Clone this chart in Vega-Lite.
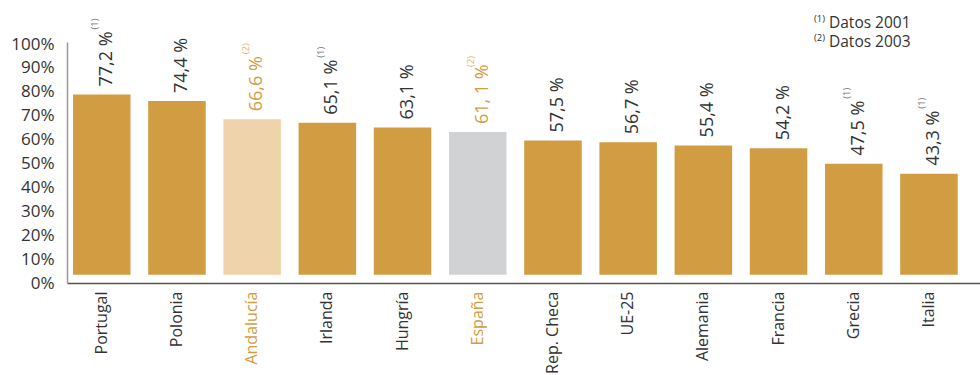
{
  "$schema": "https://vega.github.io/schema/vega-lite/v6.json",
  "width": 913,
  "height": 241,
  "autosize": {"type": "none"},
  "padding": {"left": 67, "top": 42, "right": 0, "bottom": 92},
  "config": {"view": {"stroke": null}, "font": "Open Sans", "text": {"font": "Open Sans"}},
  "datasets": {
    "main": [
      {"country": "Portugal", "value": 77.2, "label": "77,2 %", "note": "(1)"},
      {"country": "Polonia", "value": 74.4, "label": "74,4 %", "note": ""},
      {"country": "Andalucía", "value": 66.6, "label": "66,6 %", "note": "(2)"},
      {"country": "Irlanda", "value": 65.1, "label": "65,1 %", "note": "(1)"},
      {"country": "Hungría", "value": 63.1, "label": "63,1 %", "note": ""},
      {"country": "España", "value": 61.1, "label": "61, 1 %", "note": "(2)"},
      {"country": "Rep. Checa", "value": 57.5, "label": "57,5 %", "note": ""},
      {"country": "UE-25", "value": 56.7, "label": "56,7 %", "note": ""},
      {"country": "Alemania", "value": 55.4, "label": "55,4 %", "note": ""},
      {"country": "Francia", "value": 54.2, "label": "54,2 %", "note": ""},
      {"country": "Grecia", "value": 47.5, "label": "47,5 %", "note": "(1)"},
      {"country": "Italia", "value": 43.3, "label": "43,3 %", "note": "(1)"}
    ]
  },
  "data": {"name": "main"},
  "encoding": {
    "x": {
      "field": "country",
      "type": "nominal",
      "sort": null,
      "scale": {"paddingInner": 0.235, "paddingOuter": 0.188, "align": 0.212},
      "axis": {
        "title": null,
        "labelAngle": -90,
        "labelFont": "Open Sans",
        "labelFontSize": 16,
        "labelColor": {"condition": {"test": "datum.value == 'Andalucía' || datum.value == 'España'", "value": "#D29D42"}, "value": "#333333"},
        "ticks": false,
        "domainColor": "#555555",
        "domainWidth": 1.5,
        "labelPadding": 8
      }
    }
  },
  "layer": [
    {
      "layer": [
        {
          "mark": {"type": "point", "opacity": 0},
          "encoding": {
            "y": {
              "field": "value",
              "type": "quantitative",
              "scale": {"domain": [0, 100.84], "nice": false, "zero": false},
              "axis": {
                "orient": "left",
                "title": null,
                "values": [0, 10, 20, 30, 40, 50, 60, 70, 80, 90, 100],
                "labelExpr": "datum.value + '%'",
                "ticks": false,
                "grid": false,
                "domainColor": "#999999",
                "domainWidth": 1.5,
                "labelPadding": 13,
                "labelFont": "Open Sans",
                "labelFontSize": 17,
                "labelColor": "#333333",
                "labelFlush": false,
                "labelOverlap": false,
                "labelBound": false
              }
            }
          }
        }
      ]
    },
    {
      "layer": [
        {
          "mark": {"type": "bar"},
          "encoding": {
            "y": {"field": "value", "type": "quantitative", "scale": {"domain": [-3.56, 99.7], "nice": false, "zero": false}, "axis": null},
            "color": {
              "condition": [
                {"test": "datum.country == 'Andalucía'", "value": "#EFD3AB"},
                {"test": "datum.country == 'España'", "value": "#D1D2D4"}
              ],
              "value": "#D29D42"
            }
          }
        },
        {
          "mark": {"type": "text", "angle": -90, "align": "left", "baseline": "middle", "dx": 8, "dy": 5, "fontSize": 18, "font": "Open Sans"},
          "encoding": {
            "y": {"field": "value", "type": "quantitative", "axis": null},
            "text": {"field": "label"},
            "color": {
              "condition": {"test": "datum.country == 'Andalucía' || datum.country == 'España'", "value": "#D29D42"},
              "value": "#333333"
            }
          }
        },
        {
          "transform": [{"filter": "datum.note != ''"}],
          "mark": {"type": "text", "angle": -90, "align": "left", "baseline": "middle", "dx": 65, "dy": -6.5, "fontSize": 9.5, "font": "Open Sans"},
          "encoding": {
            "y": {"field": "value", "type": "quantitative", "axis": null},
            "text": {"field": "note"},
            "color": {
              "condition": {"test": "datum.country == 'Andalucía' || datum.country == 'España'", "value": "#E2B871"},
              "value": "#777777"
            }
          }
        },
        {
          "data": {"values": [{"t": "Datos 2001"}]},
          "mark": {"type": "text", "align": "left", "baseline": "middle", "dx": 4, "fontSize": 15.5, "font": "Open Sans", "color": "#333333"},
          "encoding": {
            "x": {"datum": "Grecia", "bandPosition": 0},
            "y": {"datum": 108.0, "type": "quantitative", "axis": null},
            "text": {"field": "t"}
          }
        },
        {
          "data": {"values": [{"t": "Datos 2003"}]},
          "mark": {"type": "text", "align": "left", "baseline": "middle", "dx": 4, "fontSize": 15.5, "font": "Open Sans", "color": "#333333"},
          "encoding": {
            "x": {"datum": "Grecia", "bandPosition": 0},
            "y": {"datum": 99.5, "type": "quantitative", "axis": null},
            "text": {"field": "t"}
          }
        },
        {
          "data": {"values": [{"t": "(1)"}]},
          "mark": {"type": "text", "align": "right", "baseline": "middle", "dx": 0, "fontSize": 9.5, "font": "Open Sans", "color": "#333333"},
          "encoding": {
            "x": {"datum": "Grecia", "bandPosition": 0},
            "y": {"datum": 109.5, "type": "quantitative", "axis": null},
            "text": {"field": "t"}
          }
        },
        {
          "data": {"values": [{"t": "(2)"}]},
          "mark": {"type": "text", "align": "right", "baseline": "middle", "dx": 0, "fontSize": 9.5, "font": "Open Sans", "color": "#333333"},
          "encoding": {
            "x": {"datum": "Grecia", "bandPosition": 0},
            "y": {"datum": 101.2, "type": "quantitative", "axis": null},
            "text": {"field": "t"}
          }
        }
      ]
    }
  ],
  "resolve": {"scale": {"y": "independent"}}
}
